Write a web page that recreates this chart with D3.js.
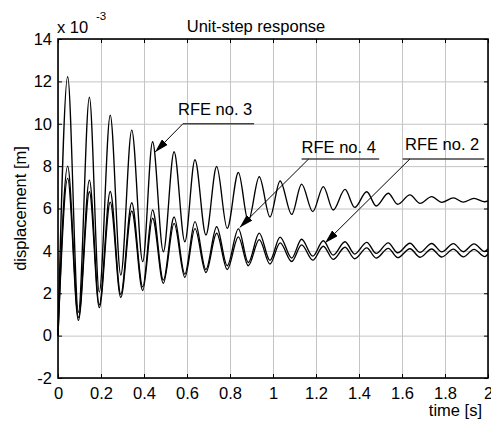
<!DOCTYPE html>
<html>
<head>
<meta charset="utf-8">
<script src="https://cdn.jsdelivr.net/npm/d3@7"></script>
<style>
  body { margin: 0; background: #fff; }
  text { font-family: "Liberation Sans", Arial, sans-serif; fill: #000; }
</style>
</head>
<body>
<svg id="chart" width="491" height="421"></svg>
<script>
// ticks
const xTicks = [0, 0.2, 0.4, 0.6, 0.8, 1, 1.2, 1.4, 1.6, 1.8, 2];
const xTickLabels = ["0", "0.2", "0.4", "0.6", "0.8", "1", "1.2", "1.4", "1.6", "1.8", "2"];
const yTicks = [-2, 0, 2, 4, 6, 8, 10, 12, 14];
const yTickLabels = ["-2", "0", "2", "4", "6", "8", "10", "12", "14"];

// time of each peak / trough [s]
const tExt = [0, 0.045, 0.095, 0.146, 0.192, 0.243, 0.292, 0.343, 0.394, 0.44, 0.49,
  0.54, 0.59, 0.637, 0.688, 0.738, 0.787, 0.839, 0.885, 0.936, 0.986,
  1.033, 1.087, 1.133, 1.185, 1.234, 1.28, 1.335, 1.38, 1.436, 1.48,
  1.536, 1.58, 1.637, 1.684, 1.738, 1.785, 1.839, 1.885, 1.935, 1.985, 2.0];

// displacement at those instants [x 10^-3 m]
const rfe3 = [0, 12.22, 1.1, 11.25, 2.05, 10.4, 2.86, 9.7, 3.49, 9.15, 3.96,
  8.68, 4.43, 8.3, 4.75, 7.98, 5.06, 7.7, 5.4, 7.5, 5.6,
  7.3, 5.72, 7.15, 5.85, 7.03, 5.93, 6.9, 6.05, 6.79, 6.12,
  6.72, 6.2, 6.64, 6.24, 6.56, 6.29, 6.5, 6.3, 6.48, 6.32, 6.36];
const rfe4 = [0, 8.0, 0.85, 7.34, 1.45, 6.8, 1.95, 6.27, 2.3, 5.93, 2.62,
  5.6, 2.9, 5.38, 3.12, 5.14, 3.3, 5.04, 3.45, 4.84, 3.55,
  4.65, 3.66, 4.55, 3.75, 4.48, 3.8, 4.43, 3.85, 4.4, 3.88,
  4.38, 3.91, 4.36, 3.93, 4.35, 3.95, 4.34, 3.96, 4.33, 3.97, 4.1];
const rfe2 = [0, 7.42, 0.72, 6.79, 1.32, 6.3, 1.8, 5.88, 2.13, 5.54, 2.47,
  5.3, 2.75, 5.05, 2.98, 4.83, 3.12, 4.66, 3.3, 4.53, 3.38,
  4.38, 3.5, 4.28, 3.56, 4.22, 3.6, 4.17, 3.63, 4.14, 3.66,
  4.12, 3.68, 4.1, 3.7, 4.09, 3.71, 4.08, 3.72, 4.07, 3.73, 3.85];

const seriesList = [rfe3, rfe4, rfe2];

// callouts, in data units
const noteLabels = ["RFE no. 3", "RFE no. 4", "RFE no. 2"];
const noteTextAt = [[0.558, 10.41], [1.133, 8.64], [1.614, 8.76]];
const noteUnderline = [[0.581, 0.912, 10.0], [1.133, 1.494, 8.34], [1.603, 1.983, 8.34]];
const noteLeaderFrom = [[0.581, 10.0], [1.166, 8.34], [1.637, 8.34]];
const noteTip = [[0.451, 8.66], [0.845, 5.1], [1.242, 4.37]];

const svg = d3.select("#chart");
svg.append("rect").attr("width", 491).attr("height", 421).attr("fill", "#fff");

const m = { left: 58, right: 488, top: 39, bottom: 378 };
const x = d3.scaleLinear().domain([0, 2]).range([m.left, m.right]);
const y = d3.scaleLinear().domain([-2, 14]).range([m.bottom, m.top]);

// grid
svg.append("g")
  .attr("transform", `translate(0,${m.bottom})`)
  .call(d3.axisBottom(x).tickValues(xTicks).tickSize(-(m.bottom - m.top)).tickFormat(""))
  .call(g => g.select(".domain").remove())
  .call(g => g.selectAll("line").attr("stroke", "#c4c4c4").attr("stroke-width", 1));
svg.append("g")
  .attr("transform", `translate(${m.left},0)`)
  .call(d3.axisLeft(y).tickValues(yTicks).tickSize(-(m.right - m.left)).tickFormat(""))
  .call(g => g.select(".domain").remove())
  .call(g => g.selectAll("line").attr("stroke", "#c4c4c4").attr("stroke-width", 1));

// curves
const line = d3.line()
  .x((d, i) => x(tExt[i]))
  .y(d => y(d))
  .curve(d3.curveMonotoneX);

svg.append("g")
  .selectAll("path")
  .data(seriesList)
  .join("path")
  .attr("d", line)
  .attr("fill", "none")
  .attr("stroke", "#000")
  .attr("stroke-width", 1.35);

// axes with inward ticks
const fontSize = 16.5;
svg.append("g")
  .attr("transform", `translate(0,${m.bottom})`)
  .call(d3.axisBottom(x).tickValues(xTicks).tickSize(-4).tickPadding(9)
    .tickFormat((d, i) => xTickLabels[i]));
svg.append("g")
  .attr("transform", `translate(${m.left},0)`)
  .call(d3.axisLeft(y).tickValues(yTicks).tickSize(-4).tickPadding(6)
    .tickFormat((d, i) => yTickLabels[i]));
svg.append("g")
  .attr("transform", `translate(0,${m.top})`)
  .call(d3.axisTop(x).tickValues(xTicks).tickSize(-4).tickFormat(""));
svg.append("g")
  .attr("transform", `translate(${m.right},0)`)
  .call(d3.axisRight(y).tickValues(yTicks).tickSize(-4).tickFormat(""));

svg.selectAll(".domain").remove();
svg.selectAll(".tick text")
  .attr("font-size", fontSize)
  .attr("font-family", "'Liberation Sans', Arial, sans-serif")
  .attr("fill", "#000");

svg.append("rect")
  .attr("x", m.left).attr("y", m.top)
  .attr("width", m.right - m.left).attr("height", m.bottom - m.top)
  .attr("fill", "none").attr("stroke", "#000").attr("stroke-width", 1.6);

// title and labels
svg.append("text").attr("x", 256).attr("y", 32)
  .attr("text-anchor", "middle").attr("font-size", fontSize)
  .text("Unit-step response");
svg.append("text").attr("x", 57).attr("y", 33)
  .attr("font-size", fontSize).text("x 10");
svg.append("text").attr("x", 96).attr("y", 20)
  .attr("font-size", 11.5).text("-3");
svg.append("text").attr("x", 482).attr("y", 416)
  .attr("text-anchor", "end").attr("font-size", fontSize)
  .text("time [s]");
svg.append("text")
  .attr("transform", `translate(26,${(m.top + m.bottom) / 2}) rotate(-90)`)
  .attr("text-anchor", "middle").attr("font-size", fontSize)
  .text("displacement [m]");

// callouts
svg.append("defs").append("marker")
  .attr("id", "head")
  .attr("viewBox", "0 0 14 8")
  .attr("refX", 14).attr("refY", 4)
  .attr("markerWidth", 14).attr("markerHeight", 8)
  .attr("markerUnits", "userSpaceOnUse")
  .attr("orient", "auto")
  .append("path").attr("d", "M0,0L14,4L0,8Z").attr("fill", "#000");

noteLabels.forEach((label, i) => {
  const u = noteUnderline[i];
  svg.append("line")
    .attr("x1", x(u[0])).attr("x2", x(u[1]))
    .attr("y1", y(u[2])).attr("y2", y(u[2]))
    .attr("stroke", "#444").attr("stroke-width", 1.5);
  svg.append("line")
    .attr("x1", x(noteLeaderFrom[i][0])).attr("y1", y(noteLeaderFrom[i][1]))
    .attr("x2", x(noteTip[i][0])).attr("y2", y(noteTip[i][1]))
    .attr("stroke", "#000").attr("stroke-width", 1)
    .attr("marker-end", "url(#head)");
  svg.append("text")
    .attr("x", x(noteTextAt[i][0])).attr("y", y(noteTextAt[i][1]))
    .attr("font-size", fontSize)
    .text(label);
});
</script>
</body>
</html>
